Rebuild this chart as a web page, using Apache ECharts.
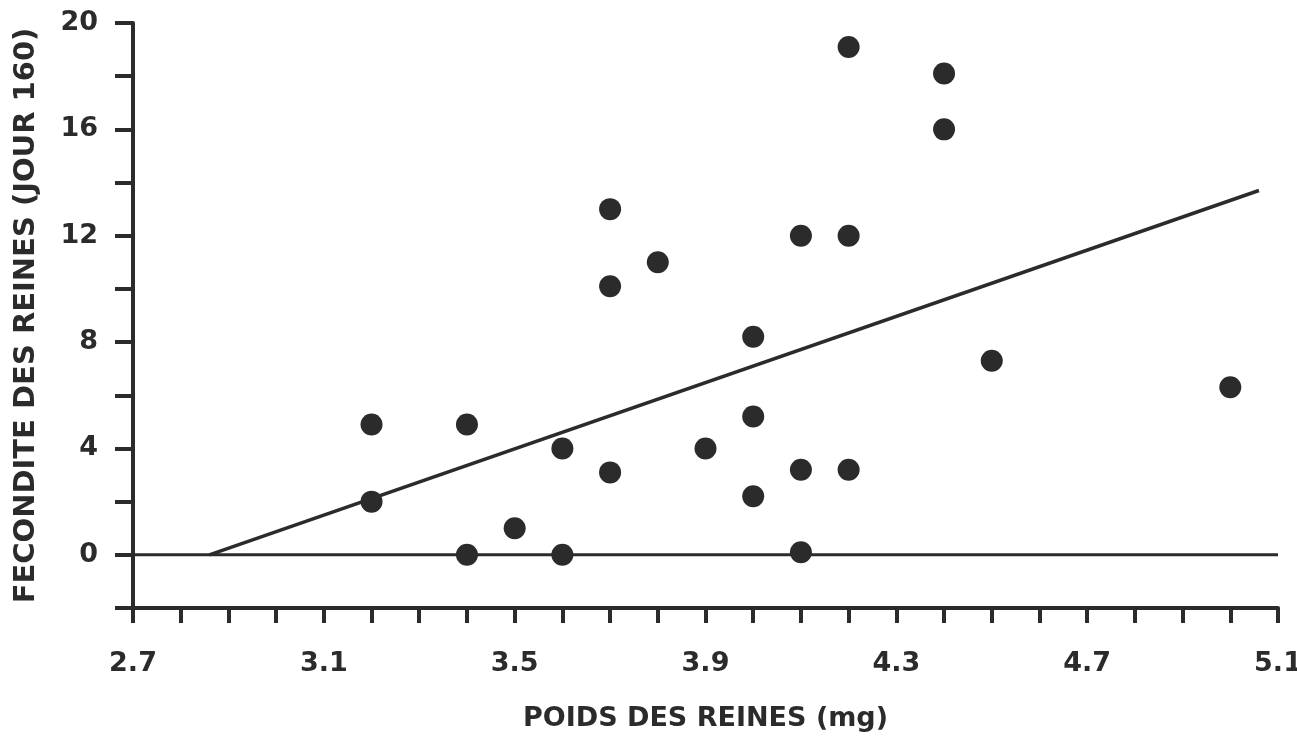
<!DOCTYPE html>
<html>
<head>
<meta charset="utf-8">
<title>Fecondite des reines</title>
<script src="https://cdn.jsdelivr.net/npm/echarts@6/dist/echarts.min.js"></script>
<style>
  html, body { margin: 0; padding: 0; background: #fff; }
  #chart { width: 1297px; height: 738px; }
</style>
</head>
<body>
<div id="chart"></div>
<script>
// poids des reines (mg) et fecondite au jour 160
var poids = [3.2, 3.2, 3.4, 3.4, 3.5, 3.6, 3.6, 3.7, 3.7, 3.7, 3.8, 3.9, 4.0, 4.0, 4.0,
  4.1, 4.1, 4.1, 4.2, 4.2, 4.2, 4.4, 4.4, 4.5, 5.0];
var fecondite = [4.9, 2.0, 4.9, 0, 1.0, 4.0, 0, 13.0, 10.1, 3.1, 11.0, 4.0, 8.2, 5.2, 2.2,
  12.0, 3.2, 0.1, 19.1, 12.0, 3.2, 18.1, 16.0, 7.3, 6.3];

// droite de regression et ligne zero
var regX = [2.86, 5.06];
var regY = [0, 13.7];
var zeroX = [2.7, 5.1];
var zeroY = [0, 0];

var xTicks = ['2.7', '3.1', '3.5', '3.9', '4.3', '4.7', '5.1'];
var yTicks = [0, 4, 8, 12, 16, 20];

var ink = '#2b2b2b';
var font = "'DejaVu Sans', 'Liberation Sans', Arial, sans-serif";

function pairs(xs, ys) {
  return xs.map(function (x, i) { return [x, ys[i]]; });
}

var chart = echarts.init(document.getElementById('chart'));
chart.setOption({
  backgroundColor: '#fff',
  animation: false,
  grid: { left: 133, right: 19, top: 23, bottom: 130, outerBoundsMode: 'none' },
  xAxis: {
    type: 'value',
    min: 2.7,
    max: 5.1,
    interval: 0.1,
    name: 'POIDS DES REINES (mg)',
    nameLocation: 'middle',
    nameGap: 97,
    nameTextStyle: { fontFamily: font, fontSize: 27, fontWeight: 'bold', color: ink },
    splitLine: { show: false },
    axisLine: { onZero: false, lineStyle: { color: ink, width: 4 } },
    axisTick: { inside: false, length: 15, lineStyle: { color: ink, width: 4 } },
    axisLabel: {
      margin: 42,
      fontFamily: font,
      fontSize: 27,
      fontWeight: 'bold',
      color: ink,
      showMinLabel: true,
      showMaxLabel: true,
      formatter: function (v) {
        var s = v.toFixed(1);
        return xTicks.indexOf(s) >= 0 ? s : '';
      }
    }
  },
  yAxis: {
    type: 'value',
    min: -2,
    max: 20,
    interval: 2,
    name: 'FECONDITE DES REINES (JOUR 160)',
    nameLocation: 'middle',
    nameRotate: 90,
    nameGap: 92,
    nameTextStyle: { fontFamily: font, fontSize: 29, fontWeight: 'bold', color: ink },
    splitLine: { show: false },
    axisLine: { onZero: false, lineStyle: { color: ink, width: 4 } },
    axisTick: { inside: false, length: 18, lineStyle: { color: ink, width: 4 } },
    axisLabel: {
      margin: 35,
      fontFamily: font,
      fontSize: 27,
      fontWeight: 'bold',
      color: ink,
      formatter: function (v) {
        var n = Math.round(v);
        return yTicks.indexOf(n) >= 0 ? String(n) : '';
      }
    }
  },
  series: [
    {
      type: 'line',
      data: pairs(zeroX, zeroY),
      symbol: 'none',
      lineStyle: { color: ink, width: 3 },
      z: 1
    },
    {
      type: 'line',
      data: pairs(regX, regY),
      symbol: 'none',
      lineStyle: { color: ink, width: 3.5 },
      z: 1
    },
    {
      type: 'scatter',
      data: pairs(poids, fecondite),
      symbol: 'circle',
      symbolSize: 22,
      itemStyle: { color: ink, opacity: 1 },
      z: 3
    }
  ]
});
</script>
</body>
</html>
